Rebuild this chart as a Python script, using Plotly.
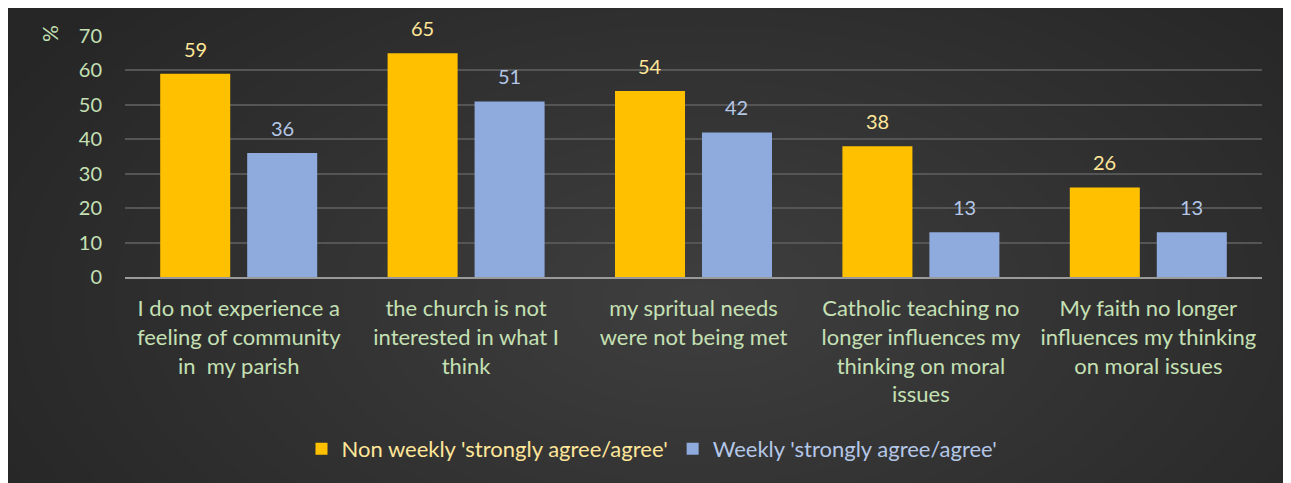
import plotly.graph_objects as go

categories = [
    "I do not experience a<br>feeling of community<br>in  my parish",
    "the church is not<br>interested in what I<br>think",
    "my spritual needs<br>were not being met",
    "Catholic teaching no<br>longer influences my<br>thinking on moral<br>issues",
    "My faith no longer<br>influences my thinking<br>on moral issues",
]
non_weekly = [59, 65, 54, 38, 26]
weekly = [36, 51, 42, 13, 13]
series_names = ["Non weekly 'strongly agree/agree'", "Weekly 'strongly agree/agree'"]
y_ticks = [0, 10, 20, 30, 40, 50, 60, 70]

OFF = 8  # page body margin
W, H = 1291 - OFF, 483 - OFF
L, R, T, B = 125 - OFF, 1262 - OFF, 36 - OFF, 277 - OFF
FONT = "Lato"
GREEN = "#c5e0b4"
YEL_TXT = "#ffe699"
BLU_TXT = "#b4c7e7"
BARGAP = 0.235
BARGROUPGAP = 0.195


def px(x):  # page pixel -> paper x
    return (x - OFF - L) / (R - L)


def py(y):  # page pixel -> paper y
    return (B - (y - OFF)) / (B - T)


fig = go.Figure()
fig.add_trace(go.Bar(
    x=categories, y=non_weekly,
    name=f"<span style='color:{YEL_TXT}'>{series_names[0]}</span>",
    marker=dict(color="#ffc000", line=dict(width=0)),
))
fig.add_trace(go.Bar(
    x=categories, y=weekly,
    name=f"<span style='color:{BLU_TXT}'>{series_names[1]}</span>",
    marker=dict(color="#8faadc", line=dict(width=0)),
))

# data labels above bars
cat_w = (R - L) / len(categories)
slot = cat_w * (1 - BARGAP) / 2
annotations = []
for vals, col, sgn in ((non_weekly, YEL_TXT, -1), (weekly, BLU_TXT, 1)):
    for c, v in zip(categories, vals):
        annotations.append(dict(x=c, y=v, xref="x", yref="y", text=str(v), showarrow=False,
                                xshift=sgn * slot / 2, yshift=25, yanchor="middle",
                                xanchor="center",
                                font=dict(size=20, color=col, family=FONT)))
annotations.append(dict(text="%", xref="paper", yref="paper", x=px(49), y=py(34),
                        xanchor="center", yanchor="middle",
                        showarrow=False, textangle=-90,
                        font=dict(size=21, color=GREEN, family=FONT)))

shapes = []
# radial glow approximation
cx, cy = 700 - OFF, 300 - OFF
n = 24
for i in range(n):
    f = 1 - i / n
    rx, ry = 780 * f, 440 * f
    shapes.append(dict(type="circle", xref="paper", yref="paper",
                       x0=(cx - rx - L) / (R - L), x1=(cx + rx - L) / (R - L),
                       y0=(B - (cy + ry)) / (B - T), y1=(B - (cy - ry)) / (B - T),
                       fillcolor="rgba(255,255,255,0.0095)", line=dict(width=0), layer="below"))

fig.update_layout(
    width=W, height=H,
    margin=dict(l=L, r=W - R, t=T, b=H - B, autoexpand=False),
    paper_bgcolor="#262626",
    plot_bgcolor="rgba(0,0,0,0)",
    barmode="group",
    bargap=BARGAP,
    bargroupgap=BARGROUPGAP,
    font=dict(family=FONT, size=22, color=GREEN),
    shapes=shapes,
    annotations=annotations,
    showlegend=True,
    legend=dict(orientation="h", x=px(652), xanchor="center", y=py(449), yanchor="middle",
                font=dict(size=22, family=FONT), bgcolor="rgba(0,0,0,0)",
                traceorder="normal"),
)
fig.update_yaxes(range=[0, 70], tickvals=y_ticks, showgrid=True, gridcolor="#555555", gridwidth=2,
                 zeroline=False, showline=False, ticks="", ticklabelstandoff=22,
                 tickfont=dict(size=20, color=GREEN, family=FONT))
fig.update_xaxes(showline=True, linecolor="#9a9a9a", linewidth=2, ticks="",
                 ticklabelstandoff=11, tickfont=dict(size=22, color=GREEN, family=FONT),
                 tickangle=0)

fig.write_html("out.html")
